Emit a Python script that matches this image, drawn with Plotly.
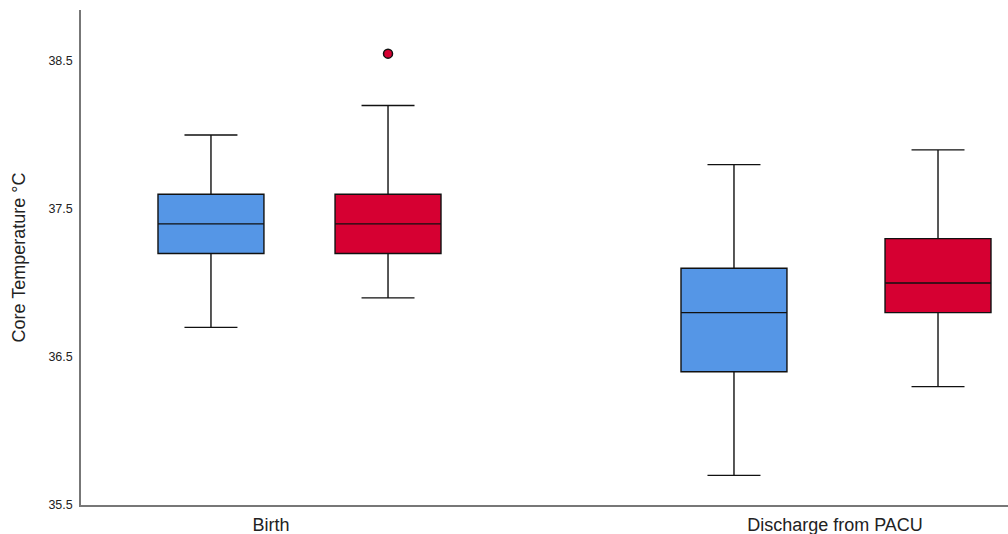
import plotly.graph_objects as go

# Data
groups = ["Birth", "Birth", "Discharge from PACU", "Discharge from PACU"]
series = ["A", "B", "A", "B"]
lower_whisker = [36.7, 36.9, 35.7, 36.3]
q1_vals = [37.2, 37.2, 36.4, 36.8]
medians = [37.4, 37.4, 36.8, 37.0]
q3_vals = [37.6, 37.6, 37.1, 37.3]
upper_whisker = [38.0, 38.2, 37.8, 37.9]
outlier_box = [1]
outlier_vals = [38.55]
tick_labels = ["Birth", "Discharge from PACU"]

# Layout positions (axis units)
box_pos = [0.1402, 0.3312, 0.7044, 0.9245]
tick_pos = [0.205, 0.8134]
colors = ["#5596E6", "#D60032", "#5596E6", "#D60032"]

fig = go.Figure()
for i in range(len(box_pos)):
    fig.add_trace(go.Box(
        x=[box_pos[i]],
        q1=[q1_vals[i]], median=[medians[i]], q3=[q3_vals[i]],
        lowerfence=[lower_whisker[i]], upperfence=[upper_whisker[i]],
        width=0.1143, whiskerwidth=0.5,
        fillcolor=colors[i],
        line=dict(color="#111111", width=1.4),
        boxpoints=False, hoverinfo="y", showlegend=False,
    ))

fig.add_trace(go.Scatter(
    x=[box_pos[j] for j in outlier_box], y=outlier_vals,
    mode="markers",
    marker=dict(color="#D60032", size=9, line=dict(color="#111111", width=1.5)),
    showlegend=False,
))

fig.update_layout(
    width=1008, height=534,
    margin=dict(l=81, r=0, t=10, b=29),
    paper_bgcolor="white", plot_bgcolor="white",
    font=dict(family="Liberation Sans, Arial, sans-serif", color="#222222"),
    showlegend=False,
    xaxis=dict(
        range=[0, 1], tickmode="array", tickvals=tick_pos, ticktext=tick_labels,
        showgrid=False, zeroline=False, showline=True, linecolor="#777777", linewidth=1.5,
        ticks="", tickfont=dict(size=18, color="#222222"), ticklabelstandoff=3,
    ),
    yaxis=dict(
        range=[35.5, 38.845], tickmode="array", tickvals=[35.5, 36.5, 37.5, 38.5],
        ticktext=["35.5", "36.5", "37.5", "38.5"],
        showgrid=False, zeroline=False, showline=True, linecolor="#777777", linewidth=1.5,
        ticks="", tickfont=dict(size=12.5, color="#222222"), ticklabelstandoff=4,
        title=dict(text="Core Temperature °C", font=dict(size=18, color="#222222"), standoff=18),
    ),
)

fig.write_html("out.html", config={"displayModeBar": False},
               post_script="document.body.style.margin='0';document.body.style.overflow='hidden';")
